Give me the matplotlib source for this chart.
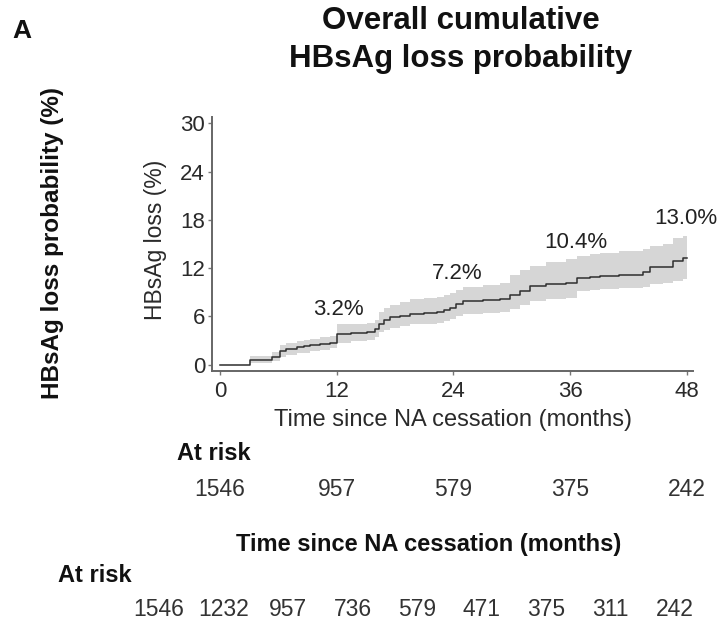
import matplotlib
matplotlib.use("Agg")
import matplotlib.pyplot as plt
import matplotlib.transforms as mtransforms

plt.rcParams['font.family'] = ['Liberation Sans', 'DejaVu Sans']

# cumulative HBsAg loss with 95% band
months = [0, 3.1, 5.3, 6.2, 6.8, 7.9, 8.6, 9.3, 10.3, 11.3,
          12.0, 13.5, 15.1, 15.9, 16.3, 16.9, 17.5, 18.5, 19.5, 21.0,
          22.3, 23.0, 23.6, 24.3, 25.0, 27.0, 28.8, 29.8, 30.8, 31.9,
          33.5, 35.6, 36.7, 38.0, 39.1, 41.0, 43.5, 44.2, 45.5, 46.6,
          47.6, 48.0]
loss = [0.0, 0.6, 1.0, 1.7, 1.9, 2.2, 2.3, 2.4, 2.55, 2.7,
        3.8, 3.9, 4.1, 4.4, 5.0, 5.5, 5.9, 6.1, 6.3, 6.4,
        6.5, 6.8, 7.1, 7.5, 7.9, 8.0, 8.1, 8.7, 9.2, 9.8,
        10.0, 10.2, 10.8, 10.9, 11.0, 11.2, 11.5, 12.1, 12.1, 12.9,
        13.2, 13.2]
ci_low = [0.0, 0.2, 0.4, 1.0, 1.2, 1.4, 1.5, 1.7, 1.85, 2.0,
          2.7, 2.9, 3.1, 3.4, 4.0, 4.3, 4.6, 4.8, 5.0, 5.1,
          5.2, 5.4, 5.7, 6.0, 6.3, 6.4, 6.5, 6.9, 7.4, 7.9,
          8.1, 8.3, 9.2, 9.3, 9.4, 9.5, 9.6, 10.0, 10.1, 10.4,
          10.6, 10.6]
ci_high = [0.0, 1.1, 1.6, 2.4, 2.7, 2.9, 3.0, 3.2, 3.4, 3.6,
           5.0, 5.1, 5.2, 5.6, 6.6, 7.0, 7.4, 7.8, 8.1, 8.3,
           8.4, 8.6, 8.9, 9.3, 9.6, 9.9, 10.2, 11.2, 11.8, 12.3,
           12.7, 13.1, 13.5, 13.7, 13.9, 14.1, 14.4, 14.8, 15.0, 15.8,
           16.0, 16.0]

# yearly estimates written on the curve
label_times = [12.2, 24.4, 36.6, 47.9]
label_y = [6.2, 10.7, 14.45, 17.55]
label_txt = ['3.2%', '7.2%', '10.4%', '13.0%']

# numbers at risk
risk_t1 = [0, 12, 24, 36, 48]
risk_n1 = [1546, 957, 579, 375, 242]
risk_t2 = [0, 6, 12, 18, 24, 30, 36, 42, 48]
risk_n2 = [1546, 1232, 957, 736, 579, 471, 375, 311, 242]

W, H = 723, 621
fig = plt.figure(figsize=(W / 100, H / 100), dpi=100)
ax = fig.add_axes([212 / W, 1 - 371 / H, 481 / W, 254 / H])

ax.fill_between(months, ci_low, ci_high, step='post', color='#d6d6d6', lw=0)
ax.step(months, loss, where='post', color='#2e2e2e', lw=1.1)

for t, y, s in zip(label_times, label_y, label_txt):
    ax.text(t, y, s, ha='center', va='baseline', fontsize=16, color='#222222')

ax.set_xlim(-0.82, 48.62)
ax.set_ylim(-0.8, 30.8)
ax.set_xticks([0, 12, 24, 36, 48])
ax.set_yticks([0, 6, 12, 18, 24, 30])
for side in ['top', 'right']:
    ax.spines[side].set_visible(False)
for side in ['left', 'bottom']:
    ax.spines[side].set_color('#666666')
    ax.spines[side].set_linewidth(1.4)
ax.tick_params(axis='both', direction='out', length=3, width=1, color='#777777',
               labelsize=16, labelcolor='#2a2a2a')
ax.tick_params(axis='x', pad=4)
ax.tick_params(axis='y', pad=2)

ax.set_xlabel('Time since NA cessation (months)', fontsize=17, color='#2a2a2a', va='center')
ax.xaxis.set_label_coords(0.502, -0.193)
ax.set_ylabel('HBsAg loss (%)', fontsize=16.5, color='#2a2a2a', va='center')
ax.yaxis.set_label_coords(-0.118, 0.516)

# titles and panel label
fig.text(461 / W, 1 - 29 / H, 'Overall cumulative', ha='center', va='baseline',
         fontsize=22.5, fontweight='bold', color='#111111')
fig.text(461 / W, 1 - 67 / H, 'HBsAg loss probability', ha='center', va='baseline',
         fontsize=22.5, fontweight='bold', color='#111111')
fig.text(12 / W, 1 - 38 / H, 'A', ha='left', va='baseline', fontsize=19,
         fontweight='bold', color='#111111')
fig.text(53 / W, 1 - 243 / H, 'HBsAg loss probability (%)', rotation=90,
         ha='center', va='center', fontsize=17.5, fontweight='bold', color='#111111')

# risk table 1 (aligned with plot axis)
tr1 = mtransforms.blended_transform_factory(ax.transData, fig.transFigure)
fig.text(177 / W, 1 - 454 / H, 'At risk', ha='left', va='center', fontsize=17,
         fontweight='bold', color='#111111')
for t, n in zip(risk_t1, risk_n1):
    ax.text(t, 1 - 490 / H, str(n), transform=tr1, ha='center', va='center',
            fontsize=16.5, color='#333333', clip_on=False)

# risk table 2
fig.text(429 / W, 1 - 545 / H, 'Time since NA cessation (months)', ha='center',
         va='center', fontsize=17, fontweight='bold', color='#111111')
fig.text(58 / W, 1 - 575 / H, 'At risk', ha='left', va='center', fontsize=17,
         fontweight='bold', color='#111111')
rax = fig.add_axes([159 / W, 0.0, 516 / W, 0.01])
rax.set_xlim(0, 48)
rax.axis('off')
tr2 = mtransforms.blended_transform_factory(rax.transData, fig.transFigure)
for t, n in zip(risk_t2, risk_n2):
    rax.text(t, 1 - 609 / H, str(n), transform=tr2, ha='center', va='center',
             fontsize=16.5, color='#333333', clip_on=False)

fig.savefig('out.png', dpi=100)
